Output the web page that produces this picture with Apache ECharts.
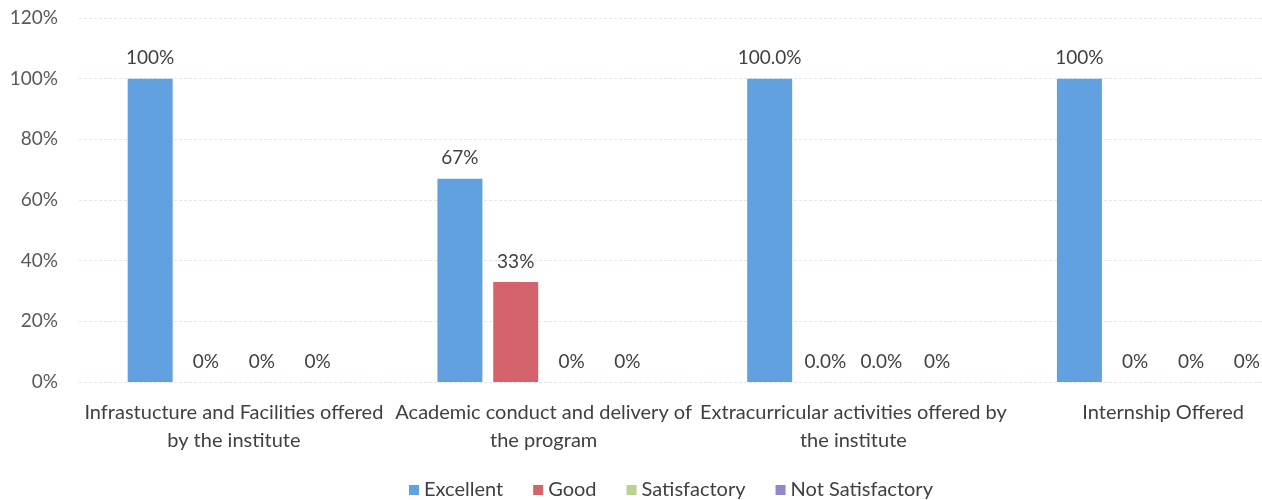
<!DOCTYPE html>
<html>
<head>
<meta charset="utf-8">
<script src="https://cdn.jsdelivr.net/npm/echarts@6/dist/echarts.min.js"></script>
<style>
html,body{margin:0;padding:0;background:#fff;overflow:hidden;width:1262px;height:500px;}
#chart{width:1318px;height:500px;}
</style>
</head>
<body>
<div id="chart"></div>
<script>
const categories = [
  'Infrastucture and Facilities offered by the institute',
  'Academic conduct and delivery of the program',
  'Extracurricular activities offered by the institute',
  'Internship Offered'
];
const tickLabels = [
  'Infrastucture and Facilities offered\nby the institute',
  'Academic conduct and delivery of\nthe program',
  'Extracurricular activities offered by\nthe institute',
  'Internship Offered'
];
const seriesNames = ['Excellent', 'Good', 'Satisfactory', 'Not Satisfactory'];
const excellent = [100, 67, 100, 100];
const good = [0, 33, 0, 0];
const satisfactory = [0, 0, 0, 0];
const notSatisfactory = [0, 0, 0, 0];
const excellentLabels = ['100%', '67%', '100.0%', '100%'];
const goodLabels = ['0%', '33%', '0.0%', '0%'];
const satisfactoryLabels = ['0%', '0%', '0.0%', '0%'];
const notSatisfactoryLabels = ['0%', '0%', '0%', '0%'];
const yTicks = [0, 20, 40, 60, 80, 100, 120];

const colors = ['#62a1e0', '#d4636d', '#b9d28c', '#9586cc'];
const values = [excellent, good, satisfactory, notSatisfactory];
const labels = [excellentLabels, goodLabels, satisfactoryLabels, notSatisfactoryLabels];
const font = 'Lato, "Open Sans", sans-serif';

const chart = echarts.init(document.getElementById('chart'));
chart.setOption({
  animation: false,
  backgroundColor: '#ffffff',
  color: colors,
  textStyle: { fontFamily: font },
  grid: { left: 79, right: 0, top: 18, bottom: 118, containLabel: false },
  legend: {
    data: seriesNames,
    left: 404,
    top: 475,
    itemWidth: 10,
    itemHeight: 10,
    itemGap: 30,
    icon: 'rect',
    textStyle: { fontSize: 20, color: '#404040', fontFamily: font }
  },
  xAxis: {
    type: 'category',
    data: categories,
    axisLine: { show: false },
    axisTick: { show: false },
    axisLabel: {
      interval: 0,
      margin: 17,
      fontSize: 20,
      lineHeight: 28,
      color: '#404040',
      fontFamily: font,
      formatter: (v, i) => tickLabels[i]
    }
  },
  yAxis: {
    type: 'value',
    min: yTicks[0],
    max: yTicks[yTicks.length - 1],
    interval: 20,
    axisLine: { show: false },
    axisTick: { show: false },
    axisLabel: {
      margin: 21,
      fontSize: 19,
      color: '#595959',
      fontFamily: font,
      formatter: v => v + '%'
    },
    splitLine: { lineStyle: { color: '#e2e7ee', width: 1, type: [3, 2] } }
  },
  series: seriesNames.map((name, s) => ({
    name: name,
    type: 'bar',
    data: values[s],
    barWidth: 45,
    barGap: '24%',
    itemStyle: { color: colors[s] },
    label: {
      show: true,
      position: 'top',
      distance: 11,
      fontSize: 19,
      color: '#404040',
      fontFamily: font,
      formatter: p => labels[s][p.dataIndex]
    }
  }))
});
</script>
</body>
</html>
